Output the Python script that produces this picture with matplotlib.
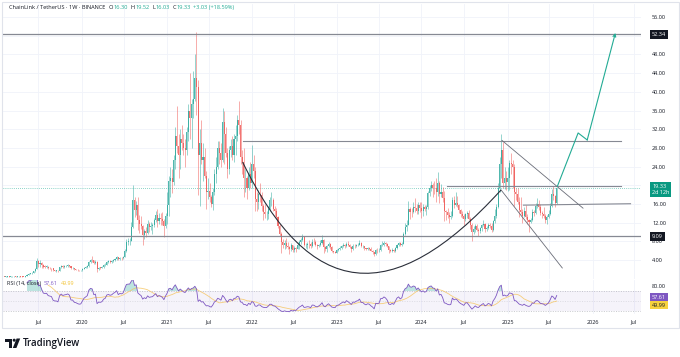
import numpy as np
import pandas as pd
import matplotlib
matplotlib.use('Agg')
import matplotlib.pyplot as plt
import matplotlib.dates as mdates
from matplotlib.path import Path
from matplotlib.patches import PathPatch, Rectangle, Polygon, Circle
import matplotlib.transforms as mtrans

plt.rcParams['font.family'] = ['Open Sans', 'DejaVu Sans']

# weekly LINK/USDT candles, first week 2019-02-04, open = previous close
first_week = '2019-02-04'
first_open = 0.45
closes = [
    # 2019
    0.44, 0.47, 0.47, 0.46, 0.48, 0.50, 0.50, 0.47, 0.48, 0.53, 0.47, 0.45, 0.44,
    0.55, 0.80, 1.05, 1.15, 1.25, 1.55, 2.10, 3.70, 3.05, 3.40, 3.00, 2.60, 2.55,
    2.60, 2.35, 2.30, 2.25, 1.85, 1.75, 1.75, 1.65, 2.45, 2.75, 2.60, 2.70, 2.75,
    2.85, 2.75, 2.25, 2.25, 2.00, 1.95, 1.85, 1.78, 1.80,
    # 2020
    2.05, 2.35, 2.50, 2.65, 3.60, 4.00, 3.95, 3.40, 3.50, 2.15, 2.40, 2.35, 2.45,
    2.85, 3.00, 3.65, 3.75, 3.65, 3.75, 4.05, 4.25, 4.65, 4.20, 4.45, 4.40, 4.60,
    5.85, 7.85, 8.10, 8.15, 11.00, 16.80, 14.80, 15.80, 12.50, 11.80, 11.20, 9.30, 10.30,
    9.80, 11.80, 11.00, 11.30, 11.50, 12.50, 13.70, 12.30, 13.10, 12.80, 12.30, 11.20, 13.50,
    # 2021
    15.80, 21.00, 21.60, 20.80, 25.50, 30.50, 28.50, 26.50, 30.00, 29.00, 28.00, 27.50, 31.50,
    36.00, 34.50, 37.50, 38.50, 43.00, 41.00, 26.50, 29.00, 25.50, 26.00, 22.00, 18.50, 18.80,
    17.50, 16.00, 18.50, 22.50, 24.00, 28.00, 27.00, 25.50, 33.50, 31.00, 27.00, 23.50, 27.50,
    28.50, 26.50, 30.00, 30.50, 34.00, 33.00, 26.00, 25.00, 21.50, 21.50, 19.50, 22.50, 20.50,
    # 2022
    24.50, 23.00, 17.00, 16.50, 18.20, 18.00, 15.50, 14.20, 13.80, 13.80, 15.00, 16.80, 16.80,
    15.00, 14.60, 13.20, 11.20, 9.60, 7.80, 7.20, 7.60, 6.90, 6.80, 6.40, 7.20, 6.20,
    6.60, 6.40, 7.20, 7.90, 8.30, 8.90, 7.20, 7.30, 7.50, 7.40, 6.90, 7.90, 7.80,
    7.20, 6.90, 7.20, 7.60, 8.30, 6.80, 6.40, 7.00, 7.40, 6.70, 5.90, 5.70, 5.60,
    # 2023
    6.20, 6.30, 6.60, 6.90, 7.20, 6.90, 7.50, 7.20, 6.80, 6.40, 7.00, 6.90, 7.20,
    7.30, 7.70, 6.90, 6.90, 6.50, 6.30, 6.50, 6.40, 6.00, 5.70, 5.20, 6.20, 6.10,
    6.20, 7.20, 7.20, 7.60, 7.40, 7.00, 6.10, 6.00, 6.20, 6.00, 6.60, 7.30, 7.60,
    7.20, 7.50, 9.50, 11.00, 11.60, 15.00, 14.30, 14.20, 15.30, 15.20, 14.40, 15.70, 15.10,
    # 2024
    14.60, 15.30, 14.90, 15.40, 18.30, 19.50, 20.10, 19.50, 19.40, 18.60, 20.40, 18.20, 18.60,
    17.30, 14.50, 14.20, 13.60, 13.30, 13.40, 16.80, 15.80, 16.30, 15.80, 14.70, 13.90, 13.40,
    12.80, 13.80, 14.00, 12.80, 11.50, 10.00, 10.60, 11.30, 10.50, 10.30, 10.90, 11.40, 11.80, 10.60,
    10.90, 11.50, 11.20, 10.40, 12.30, 13.40, 15.30, 19.40, 24.50, 27.50, 20.40, 21.50, 20.60,
    # 2025
    21.50, 24.80, 24.50, 24.00, 18.50, 18.20, 16.50, 14.80, 14.20, 13.50, 14.40, 13.20, 12.50,
    12.10, 12.60, 14.30, 14.10, 15.60, 16.00, 15.30, 14.00, 13.80, 13.50, 12.60, 13.20, 13.90,
    15.60, 18.20, 17.60, 16.30, 19.33,
]
highs = [
    # 2019
    0.47, 0.49, 0.52, 0.49, 0.50, 0.53, 0.52, 0.51, 0.56, 0.60, 0.54, 0.49, 0.47,
    0.58, 0.95, 1.20, 1.25, 1.35, 1.70, 2.30, 4.50, 4.00, 4.00, 3.50, 3.10, 2.85,
    3.00, 2.70, 2.50, 2.40, 2.30, 1.95, 1.85, 1.85, 2.55, 3.00, 2.90, 2.90, 3.00,
    3.10, 2.95, 2.80, 2.45, 2.30, 2.05, 2.00, 1.95, 1.95,
    # 2020
    2.30, 2.60, 2.65, 2.85, 3.70, 4.20, 4.80, 4.10, 3.90, 3.70, 2.60, 2.60, 2.70,
    3.10, 3.35, 3.80, 4.00, 4.00, 3.95, 4.20, 4.40, 4.90, 4.75, 4.60, 4.70, 4.90,
    6.40, 8.50, 8.70, 8.80, 12.20, 20.10, 17.50, 16.70, 17.50, 13.70, 13.50, 11.50, 10.70,
    11.10, 12.60, 12.20, 12.10, 12.00, 13.00, 14.50, 15.00, 14.00, 14.10, 14.20, 12.70, 14.00,
    # 2021
    18.50, 22.00, 24.00, 23.50, 26.50, 32.50, 36.90, 31.00, 32.00, 32.80, 31.00, 30.00, 32.50,
    37.50, 44.00, 38.50, 44.50, 48.00, 52.90, 42.50, 32.00, 34.00, 29.00, 28.00, 23.00, 21.50,
    20.50, 18.00, 19.50, 23.50, 26.00, 29.50, 29.50, 29.00, 36.50, 36.00, 32.50, 28.00, 28.50,
    30.00, 30.50, 31.00, 33.00, 35.00, 38.00, 34.00, 27.50, 28.00, 23.50, 22.00, 24.00, 25.00,
    # 2022
    28.60, 26.50, 24.00, 18.50, 19.00, 20.50, 18.50, 16.00, 16.00, 14.50, 15.50, 17.50, 18.60,
    17.20, 15.50, 15.20, 13.50, 11.80, 10.00, 8.50, 8.20, 8.80, 7.80, 7.00, 7.60, 7.30,
    6.90, 6.70, 7.80, 8.20, 8.70, 9.50, 9.20, 7.60, 7.80, 8.30, 7.80, 8.60, 8.80,
    8.20, 7.40, 7.40, 8.20, 9.30, 8.50, 7.00, 7.30, 7.80, 7.60, 7.00, 6.00, 5.90,
    # 2023
    6.40, 6.50, 7.00, 7.20, 7.60, 7.40, 7.80, 8.00, 7.40, 7.00, 7.40, 7.50, 7.50,
    7.70, 8.30, 7.80, 7.30, 7.10, 6.60, 6.70, 6.70, 6.70, 6.20, 5.70, 6.40, 6.50,
    6.60, 7.40, 8.00, 8.10, 7.90, 7.60, 7.10, 6.30, 6.60, 6.40, 6.80, 7.50, 7.90,
    7.90, 7.80, 10.00, 12.00, 12.50, 16.60, 15.40, 15.20, 16.50, 17.20, 16.00, 16.50, 16.40,
    # 2024
    16.40, 16.00, 15.70, 15.80, 18.80, 20.00, 21.00, 20.50, 21.00, 21.60, 22.80, 21.00, 20.20,
    19.60, 18.70, 14.80, 15.20, 14.20, 14.40, 17.40, 17.70, 18.50, 17.60, 16.00, 15.00, 14.60,
    13.90, 14.00, 14.60, 14.80, 13.30, 11.90, 11.20, 11.80, 11.70, 10.80, 11.10, 11.80, 12.60, 12.00,
    11.20, 11.90, 12.00, 12.00, 12.60, 15.00, 16.00, 20.50, 26.00, 30.90, 29.30, 24.00, 23.00,
    # 2025
    24.00, 25.50, 27.00, 25.50, 24.50, 19.50, 19.40, 17.40, 17.50, 15.00, 15.40, 15.80, 13.80,
    12.80, 13.10, 15.00, 14.80, 16.20, 17.20, 16.80, 16.00, 14.40, 15.40, 13.80, 13.60, 14.80,
    16.20, 19.20, 19.80, 18.00, 19.52,
]
lows = [
    # 2019
    0.42, 0.43, 0.45, 0.43, 0.44, 0.47, 0.47, 0.45, 0.46, 0.47, 0.45, 0.41, 0.41,
    0.43, 0.55, 0.75, 0.95, 1.05, 1.20, 1.50, 2.00, 2.60, 2.60, 2.20, 2.40, 2.30,
    2.40, 2.00, 2.05, 1.75, 1.75, 1.65, 1.50, 1.45, 1.60, 2.30, 2.40, 2.40, 2.55,
    2.60, 2.55, 2.05, 2.00, 1.95, 1.80, 1.70, 1.72, 1.70,
    # 2020
    1.75, 2.00, 2.20, 2.40, 2.60, 3.40, 3.60, 3.10, 3.20, 1.50, 1.90, 2.05, 2.25,
    2.40, 2.70, 2.90, 3.40, 3.30, 3.30, 3.60, 3.80, 4.10, 4.00, 4.00, 4.10, 4.20,
    4.60, 5.80, 7.20, 7.30, 8.00, 10.90, 13.20, 13.60, 10.50, 9.80, 10.70, 7.30, 8.40,
    8.90, 9.60, 10.10, 10.50, 9.50, 11.00, 12.20, 11.00, 11.80, 11.50, 11.60, 9.00, 10.90,
    # 2021
    11.80, 13.50, 17.50, 18.30, 20.00, 23.50, 27.00, 21.50, 23.50, 27.50, 26.50, 24.00, 26.50,
    29.50, 30.00, 28.00, 34.50, 38.00, 35.00, 18.00, 15.50, 24.50, 21.00, 21.50, 15.00, 17.00,
    16.50, 15.30, 14.80, 18.00, 20.50, 23.50, 24.50, 24.00, 25.00, 24.50, 26.00, 21.50, 22.50,
    26.00, 25.50, 25.00, 26.50, 29.50, 31.00, 24.50, 22.50, 17.50, 18.50, 17.00, 19.00, 19.50,
    # 2022
    19.50, 21.50, 14.50, 14.50, 15.00, 16.50, 14.50, 12.50, 13.00, 12.60, 12.80, 14.50, 15.50,
    14.50, 13.50, 12.90, 10.80, 9.20, 5.40, 6.60, 6.30, 6.50, 6.40, 5.30, 5.90, 5.80,
    5.80, 5.70, 6.30, 6.40, 7.40, 8.00, 6.90, 6.50, 6.30, 6.60, 6.60, 6.70, 7.40,
    7.00, 6.40, 6.70, 7.10, 7.40, 5.60, 6.00, 5.80, 6.80, 6.40, 5.70, 5.50, 5.40,
    # 2023
    5.50, 5.90, 6.10, 6.40, 6.70, 6.50, 6.70, 6.90, 6.60, 5.70, 6.20, 6.50, 6.70,
    7.00, 7.20, 6.80, 6.60, 6.20, 6.10, 6.20, 6.20, 5.90, 5.20, 4.90, 5.10, 5.60,
    5.80, 5.90, 6.90, 7.00, 6.90, 6.80, 5.60, 5.80, 5.70, 5.80, 5.80, 6.40, 7.10,
    7.10, 6.90, 7.40, 9.40, 10.30, 11.40, 12.80, 13.30, 14.00, 14.30, 13.80, 13.80, 14.30,
    # 2024
    13.00, 13.50, 14.40, 13.70, 15.00, 17.60, 18.80, 17.50, 18.20, 16.50, 17.80, 16.20, 17.40,
    16.40, 12.40, 12.60, 13.00, 12.00, 12.80, 13.20, 15.20, 15.60, 15.40, 14.00, 13.20, 13.00,
    11.40, 12.40, 13.00, 12.50, 10.70, 8.00, 9.60, 10.00, 10.20, 9.20, 9.80, 10.30, 11.20, 10.10,
    10.20, 10.60, 10.90, 10.00, 10.20, 12.00, 13.00, 15.20, 18.50, 21.50, 19.50, 19.30, 19.00,
    # 2025
    18.80, 19.00, 22.50, 19.50, 15.50, 16.80, 16.00, 13.30, 13.80, 12.00, 13.20, 12.80, 11.80,
    10.10, 12.00, 12.40, 13.50, 13.80, 15.20, 14.80, 13.70, 13.00, 12.90, 11.90, 11.70, 12.90,
    13.70, 15.40, 16.80, 15.30, 16.03,
]

price_ticks = [4, 8, 12, 16, 20, 24, 28, 32, 36, 40, 44, 48, 52, 56]
hidden_ticks = [20, 52]  # sit under the 19.33 / 52.34 tags on the scale
time_ticks = ['2019-07-01', '2020-01-06', '2020-07-01', '2021-01-04', '2021-07-01',
              '2022-01-03', '2022-07-01', '2023-01-02', '2023-07-01', '2024-01-01',
              '2024-07-01', '2025-01-06', '2025-07-01', '2026-01-05', '2026-07-01']
time_labels = ['Jul', '2020', 'Jul', '2021', 'Jul', '2022', 'Jul', '2023', 'Jul',
               '2024', 'Jul', '2025', 'Jul', '2026', 'Jul']

# drawings on the chart: (date, price)
level_top = 52.34
level_support = 9.09
level_mid = [('2021-11-24', 29.47), ('2026-05-05', 29.47)]
level_neck = [('2024-04-20', 19.84), ('2026-05-05', 19.84)]
level_base = [('2025-03-14', 15.75), ('2026-06-17', 16.05)]
channel_upper = [('2024-12-12', 29.6), ('2025-11-25', 15.1)]
channel_lower = [('2024-12-08', 19.0), ('2025-08-28', 2.3)]
cup_bezier = [('2021-11-24', 24.97), ('2022-09-09', -4.56), ('2023-08-27', -6.70), ('2024-12-08', 19.0)]
projection = [('2025-08-07', 19.8), ('2025-11-04', 31.2), ('2025-12-13', 29.7), ('2026-04-13', 52.6)]

last_price = 19.33
rsi_last, rsi_ma_last = 57.61, 49.99

UP = '#26a69a'
DOWN = '#ef5350'
TEAL = '#22ab94'
DARK = '#131722'
GRID = '#f0f3fa'
LINE = '#868993'

weeks = pd.date_range(first_week, periods=len(closes), freq='7D')
opens = [first_open] + closes[:-1]
o = np.array(opens)
c = np.array(closes)
h = np.array(highs)
l = np.array(lows)
x = mdates.date2num(weeks)

cs = pd.Series(closes)
delta = cs.diff()
gain = delta.clip(lower=0).ewm(alpha=1 / 14, adjust=False, min_periods=14).mean()
loss = (-delta.clip(upper=0)).ewm(alpha=1 / 14, adjust=False, min_periods=14).mean()
rsi = 100 - 100 / (1 + gain / loss)
rsi_ma = rsi.rolling(14).mean()

W, H = 680, 357
fig = plt.figure(figsize=(W / 100, H / 100), dpi=100)
fig.patch.set_facecolor('white')


def box(left, top, right, bottom):
    return [left / W, 1 - bottom / H, (right - left) / W, (bottom - top) / H]


ax = fig.add_axes(box(3, 4, 641, 279))
axr = fig.add_axes(box(3, 280, 641, 314), sharex=ax)

d = lambda s: mdates.date2num(pd.Timestamp(s))

for a in (ax, axr):
    for sp in a.spines.values():
        sp.set_visible(False)
    a.set_xlim(d('2019-01-30'), d('2026-08-01'))
    for t in time_ticks:
        a.axvline(d(t), color=GRID, lw=0.6, zorder=0)

# price pane
ax.set_ylim(-0.06, 58.8)
for p in price_ticks:
    ax.axhline(p, color=GRID, lw=0.6, zorder=0)
ax.yaxis.tick_right()
ax.set_yticks(price_ticks)
ax.set_yticklabels(['' if p in hidden_ticks else f'{p:.2f}' for p in price_ticks])
ax.tick_params(axis='y', length=0, pad=8, labelsize=4, labelcolor=DARK)
ax.tick_params(axis='x', length=0, labelbottom=False)

up = c >= o
for m, col in ((up, UP), (~up, DOWN)):
    ax.vlines(x[m], l[m], h[m], color=col, lw=0.45, alpha=0.75, zorder=2)
    ax.bar(x[m], np.maximum(np.abs(c[m] - o[m]), 0.08), bottom=np.minimum(o[m], c[m]),
           width=4.5, color=col, lw=0, alpha=0.8, zorder=2)

ax.axhline(level_top, color=LINE, lw=0.9, zorder=3)
ax.axhline(level_support, color=LINE, lw=0.9, zorder=3)
ax.axhline(last_price, color=TEAL, lw=0.5, ls=(0, (1, 2)), zorder=1)


def seg(points, **kw):
    xs = [d(p[0]) for p in points]
    ys = [p[1] for p in points]
    ax.plot(xs, ys, **kw)


seg(level_mid, color=LINE, lw=0.8, zorder=3)
seg(level_neck, color=LINE, lw=0.8, zorder=3)
seg(level_base, color=LINE, lw=0.8, zorder=3)
seg(channel_upper, color='#6a6d78', lw=0.6, zorder=3)
seg(channel_lower, color='#6a6d78', lw=0.6, zorder=3)

verts = [(d(p[0]), p[1]) for p in cup_bezier]
cup = PathPatch(Path(verts, [Path.MOVETO, Path.CURVE4, Path.CURVE4, Path.CURVE4]),
                fill=False, ec='#2a2e39', lw=0.8, transform=ax.transData, zorder=3)
ax.add_patch(cup)

seg(projection[:-1], color=TEAL, lw=0.8, zorder=4)
ax.annotate('', xy=(d(projection[-1][0]), projection[-1][1]),
            xytext=(d(projection[-2][0]), projection[-2][1]),
            arrowprops=dict(arrowstyle='->', color=TEAL, lw=0.8, mutation_scale=5,
                            shrinkA=0, shrinkB=0), zorder=4)

yt = mtrans.blended_transform_factory(ax.transAxes, ax.transData)


def tag(axis, trans, value, text, fc, tc, dy=0, va='center'):
    axis.annotate(text, xy=(1, value), xycoords=trans, xytext=(8, dy), textcoords='offset points',
                  ha='left', va=va, fontsize=4, color=tc, annotation_clip=False, zorder=10,
                  bbox=dict(boxstyle='square,pad=0.35', fc=fc, ec='none'))


tag(ax, yt, level_top, f'{level_top:.2f}', DARK, 'white')
tag(ax, yt, level_support, f'{level_support:.2f}', DARK, 'white')
tag(ax, yt, last_price, f'{last_price:.2f}\n2d 12h', '#089981', 'white', dy=3, va='top')

# RSI pane
axr.set_ylim(24, 92)
axr.axhspan(30, 70, color='#7e57c2', alpha=0.07, lw=0, zorder=0)
for lv, al in ((70, 0.7), (50, 0.35), (30, 0.7)):
    axr.axhline(lv, color='#9598a1', lw=0.5, ls=(0, (1.5, 2)), alpha=al, zorder=1)
rv = rsi.to_numpy()
axr.fill_between(x, 70, rv, where=rv > 70, interpolate=True, color=UP, alpha=0.3, lw=0, zorder=1)
axr.plot(x, rsi_ma.to_numpy(), color='#f5c35b', lw=0.6, alpha=0.8, zorder=2)
axr.plot(x, rv, color='#7e57c2', lw=0.6, zorder=3)
axr.yaxis.tick_right()
axr.set_yticks([80])
axr.set_yticklabels(['80.00'])
axr.tick_params(axis='y', length=0, pad=8, labelsize=4, labelcolor=DARK)
axr.set_xticks([d(t) for t in time_ticks])
axr.set_xticklabels(time_labels)
axr.tick_params(axis='x', length=0, pad=4, labelsize=4, labelcolor=DARK)
rt = mtrans.blended_transform_factory(axr.transAxes, axr.transData)
tag(axr, rt, rsi_last, f'{rsi_last:.2f}', '#7e57c2', 'white')
tag(axr, rt, rsi_ma_last, f'{rsi_ma_last:.2f}', '#f7d23e', DARK, dy=-2.9)

# overlay in pixel coordinates: frame, legends, logo
ov = fig.add_axes([0, 0, 1, 1])
ov.set_xlim(0, W)
ov.set_ylim(H, 0)
ov.axis('off')
ov.patch.set_alpha(0)
ov.set_zorder(5)
ov.add_patch(Rectangle((1.5, 1.5), 677, 326.5, fill=False, ec='#e0e3eb', lw=0.8))


def chain(parts, x0, y0, size):
    t = ov.text(x0, y0, parts[0][0], color=parts[0][1], fontsize=size, va='center', ha='left')
    for s, col, gap in parts[1:]:
        t = ov.annotate(s, xy=(1, 0.5), xycoords=t, xytext=(gap, 0), textcoords='offset points',
                        va='center', ha='left', color=col, fontsize=size)


chain([('ChainLink / TetherUS · 1W · BINANCE', DARK),
       ('O', DARK, 2.5), ('16.30', TEAL, 0.2), ('H', DARK, 2), ('19.52', TEAL, 0.2),
       ('L', DARK, 2), ('16.03', TEAL, 0.2), ('C', DARK, 2), ('19.33', TEAL, 0.2),
       ('+3.03 (+18.59%)', TEAL, 2)], 9, 7.5, 4.1)
chain([('RSI (14, close)', DARK), (f'{rsi_last:.2f}', '#7e57c2', 2),
       (f'{rsi_ma_last:.2f}', '#f2c230', 2)], 7, 283.5, 3.9)

ov.add_patch(Polygon([(5, 338.5), (12, 338.5), (12, 348), (8.6, 348), (8.6, 341.6), (5, 341.6)],
                     closed=True, fc=DARK, ec='none'))
ov.add_patch(Circle((14.2, 340.2), 1.5, fc=DARK, ec='none'))
ov.add_patch(Polygon([(12.8, 348), (16.6, 338.5), (20.2, 338.5), (16.4, 348)],
                     closed=True, fc=DARK, ec='none'))
ov.text(23, 343.5, 'TradingView', fontsize=7, fontweight='semibold', color=DARK,
        va='center', ha='left')

fig.savefig('out.png', dpi=100, facecolor='white')
